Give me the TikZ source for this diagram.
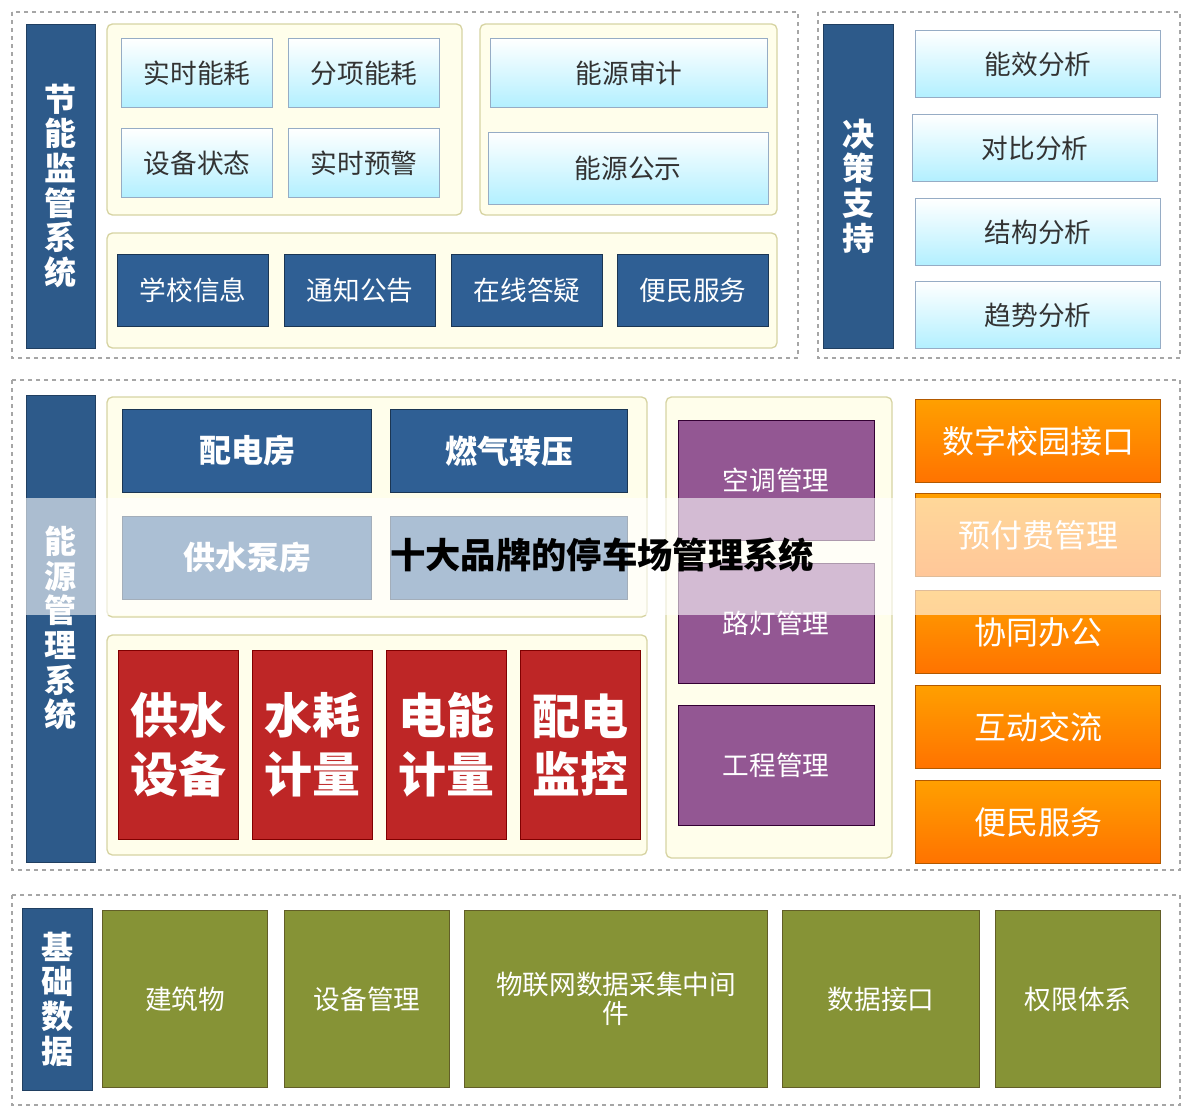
\documentclass[tikz,border=0pt]{standalone}
\usepackage{fontspec}
\newfontfamily\cjk{Noto Sans CJK SC}
\definecolor{steel}{HTML}{2D5A8A}
\definecolor{steelb}{HTML}{2F5F94}
\begin{document}
\begin{tikzpicture}[x=0.75pt,y=-0.75pt,font=\cjk,
 outer/.style={draw=gray!70,dashed,line width=0.8pt},
 bar/.style={fill=steel,draw=steel!70!black},
 panel/.style={fill=yellow!8,draw=yellow!40!gray!60,rounded corners=4pt,line width=1pt},
 lbox/.style={draw=steel!50,top color=white,bottom color=blue!20!cyan!30,text=black!80},
 dbox/.style={draw=steel!60!black,fill=steelb,text=white},
 rbox/.style={draw=red!50!black,fill=red!70!black!85,text=white},
 pbox/.style={draw=violet!40!black,fill=violet!55!gray!85,text=white},
 obox/.style={draw=orange!70!black,top color=orange!75!yellow,bottom color=orange!90!red,text=white},
 gbox/.style={draw=olive!60!black,fill=olive!75!green!70!gray,text=white}]
\useasboundingbox (0,0) rectangle (1200,1114);
\fill[white] (0,0) rectangle (1200,1114);
% top
\draw[outer] (12,12) rectangle (798,358);
\draw[bar] (26,24) rectangle (95,348);
\node[text=white,font=\cjk\bfseries\fontsize{24}{26}\selectfont,align=center] (t1) at (60,186) {节\\能\\监\\管\\系\\统};
\draw[panel] (107,24) rectangle (462,215);
\draw[panel] (480,24) rectangle (777,215);
\draw[panel] (107,233) rectangle (777,348);
\def\fs{\fontsize{20}{22}\selectfont}
\node[lbox,minimum width=113pt,minimum height=52pt,font=\cjk\fs] (a1) at (197,73) {实时能耗};
\node[lbox,minimum width=113pt,minimum height=52pt,font=\cjk\fs] (a2) at (364,73) {分项能耗};
\node[lbox,minimum width=113pt,minimum height=52pt,font=\cjk\fs] (a3) at (197,163) {设备状态};
\node[lbox,minimum width=113pt,minimum height=52pt,font=\cjk\fs] (a4) at (364,163) {实时预警};
\node[lbox,minimum width=208pt,minimum height=52pt,font=\cjk\fs] (a5) at (629,73) {能源审计};
\node[lbox,minimum width=210pt,minimum height=54pt,font=\cjk\fs] (a6) at (628,168) {能源公示};
\node[dbox,minimum width=113pt,minimum height=54pt,font=\cjk\fs] (b1) at (193,290) {学校信息};
\node[dbox,minimum width=113pt,minimum height=54pt,font=\cjk\fs] (b2) at (360,290) {通知公告};
\node[dbox,minimum width=113pt,minimum height=54pt,font=\cjk\fs] (b3) at (527,290) {在线答疑};
\node[dbox,minimum width=113pt,minimum height=54pt,font=\cjk\fs] (b4) at (693,290) {便民服务};
\draw[outer] (818,12) rectangle (1180,358);
\draw[bar] (823,24) rectangle (893,348);
\node[text=white,font=\cjk\bfseries\fontsize{24}{26}\selectfont,align=center] (t2) at (858,186) {决\\策\\支\\持};
\node[lbox,minimum width=184pt,minimum height=50pt,font=\cjk\fs] (c1) at (1038,64) {能效分析};
\node[lbox,minimum width=184pt,minimum height=50pt,font=\cjk\fs] (c2) at (1035,148) {对比分析};
\node[lbox,minimum width=184pt,minimum height=50pt,font=\cjk\fs] (c3) at (1038,232) {结构分析};
\node[lbox,minimum width=184pt,minimum height=50pt,font=\cjk\fs] (c4) at (1038,315) {趋势分析};
% middle
\draw[outer] (12,380) rectangle (1180,870);
\draw[bar] (26,395) rectangle (95,862);
\node[text=white,font=\cjk\bfseries\fontsize{24}{26}\selectfont,align=center] (t3) at (60,628) {能\\源\\管\\理\\系\\统};
\draw[panel] (107,397) rectangle (647,617);
\draw[panel] (107,635) rectangle (647,855);
\draw[panel] (666,397) rectangle (892,858);
\node[dbox,minimum width=187pt,minimum height=62pt,font=\cjk\bfseries\fontsize{24}{26}\selectfont] (d1) at (247,451) {配电房};
\node[dbox,minimum width=178pt,minimum height=62pt,font=\cjk\bfseries\fontsize{24}{26}\selectfont] (d2) at (509,451) {燃气转压};
\node[dbox,minimum width=187pt,minimum height=62pt,font=\cjk\bfseries\fontsize{24}{26}\selectfont] (d3) at (247,558) {供水泵房};
\node[dbox,minimum width=178pt,minimum height=62pt] (d4) at (509,558) {};
\foreach \n/\x/\t in {e1/178/{供水\\设备},e2/312/{水耗\\计量},e3/446/{电能\\计量},e4/580/{配电\\监控}}
  \node[rbox,minimum width=90pt,minimum height=142pt,align=center,font=\cjk\bfseries\fontsize{36}{44}\selectfont] (\n) at (\x,745) {\t};
\node[pbox,minimum width=147pt,minimum height=90pt,font=\cjk\fs] (f1) at (776,480) {空调管理};
\node[pbox,minimum width=147pt,minimum height=90pt,font=\cjk\fs] (f2) at (776,623) {路灯管理};
\node[pbox,minimum width=147pt,minimum height=90pt,font=\cjk\fs] (f3) at (776,765) {工程管理};
\node[obox,minimum width=184pt,minimum height=62pt,font=\cjk\fontsize{24}{26}\selectfont] (g1) at (1038,441) {数字校园接口};
\node[obox,minimum width=184pt,minimum height=62pt,font=\cjk\fontsize{24}{26}\selectfont] (g2) at (1038,535) {预付费管理};
\node[obox,minimum width=184pt,minimum height=62pt,font=\cjk\fontsize{24}{26}\selectfont] (g3) at (1038,632) {协同办公};
\node[obox,minimum width=184pt,minimum height=62pt,font=\cjk\fontsize{24}{26}\selectfont] (g4) at (1038,727) {互动交流};
\node[obox,minimum width=184pt,minimum height=62pt,font=\cjk\fontsize{24}{26}\selectfont] (g5) at (1038,822) {便民服务};
% bottom
\draw[outer] (12,895) rectangle (1180,1105);
\draw[bar] (22,908) rectangle (92,1090);
\node[text=white,font=\cjk\bfseries\fontsize{24}{26}\selectfont,align=center] (t4) at (57,999) {基\\础\\数\\据};
\node[gbox,minimum width=124pt,minimum height=133pt,font=\cjk\fs] (h1) at (185,999) {建筑物};
\node[gbox,minimum width=124pt,minimum height=133pt,font=\cjk\fs] (h2) at (367,999) {设备管理};
\node[gbox,minimum width=227pt,minimum height=133pt,font=\cjk\fs,align=center] (h3) at (616,999) {物联网数据采集中间\\件};
\node[gbox,minimum width=148pt,minimum height=133pt,font=\cjk\fs] (h4) at (881,999) {数据接口};
\node[gbox,minimum width=124pt,minimum height=133pt,font=\cjk\fs] (h5) at (1078,999) {权限体系};
% watermark
\fill[white,opacity=0.6] (25,498) rectangle (1165,615);
\node[font=\cjk\bfseries\fontsize{26.5}{28}\selectfont,text=black] (wm) at (602,555) {十大品牌的停车场管理系统};
\end{tikzpicture}
\end{document}
